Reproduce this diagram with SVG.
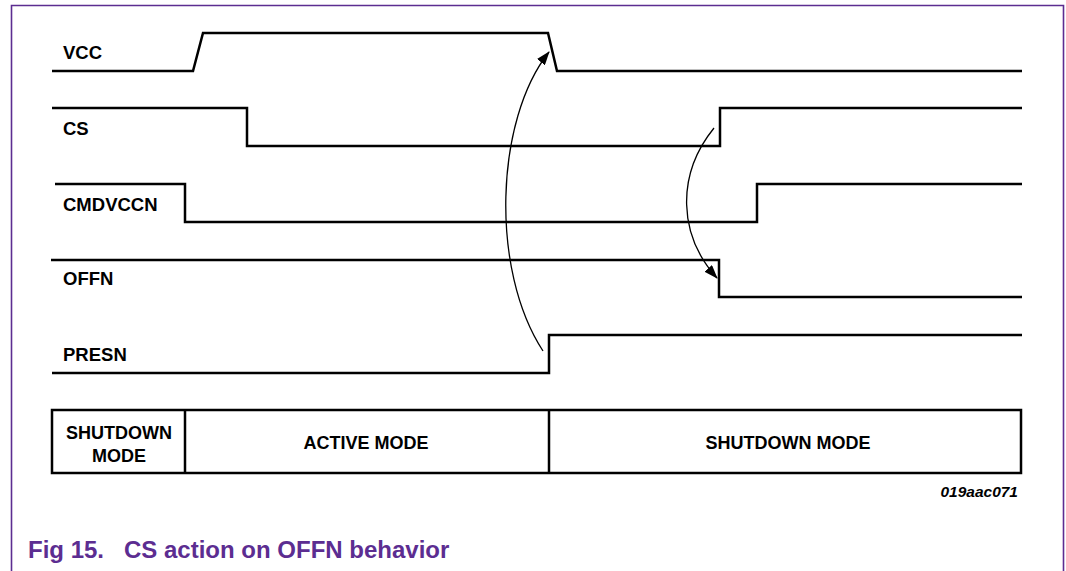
<svg xmlns="http://www.w3.org/2000/svg" width="1066" height="571" viewBox="0 0 1066 571">
<style>
.sig{fill:none;stroke:#000;stroke-width:2.5;stroke-linejoin:miter;stroke-linecap:butt}
.lbl{font-family:"Liberation Sans",Arial,sans-serif;font-size:18.5px;font-weight:bold;fill:#000}
.mode{font-family:"Liberation Sans",Arial,sans-serif;font-size:18px;font-weight:bold;fill:#000;text-anchor:middle}
.arc{fill:none;stroke:#000;stroke-width:1.3}
.frame{fill:none;stroke:#5C2D91;stroke-width:1.6}
.cap{font-family:"Liberation Sans",Arial,sans-serif;font-size:24px;font-weight:bold;fill:#5C2D91}
</style>
<defs>
<marker id="ah" markerUnits="userSpaceOnUse" markerWidth="14" markerHeight="10" refX="13" refY="5" orient="auto">
<path d="M0,0 L14,5 L0,10 Z" fill="#000"/>
</marker>
</defs>
<rect width="1066" height="571" fill="#fff"/>
<g id="frame">
<path class="frame" d="M11.5,571 V5.5 H1063.5 V571"/>
</g>
<g id="vcc">
<path class="sig" d="M52,71 H193 L203,33 H548 L557,71 H1022"/>
<text class="lbl" x="63" y="59">VCC</text>
</g>
<g id="cs">
<path class="sig" d="M52,108 H247 V146 H720 V108 H1022"/>
<text class="lbl" x="63" y="135">CS</text>
</g>
<g id="cmdvccn">
<path class="sig" d="M55,184 H185 V222 H757 V184 H1022"/>
<text class="lbl" x="63" y="211">CMDVCCN</text>
</g>
<g id="offn">
<path class="sig" d="M51,260 H719 V297 H1022"/>
<text class="lbl" x="63" y="285">OFFN</text>
</g>
<g id="presn">
<path class="sig" d="M52,373 H549 V335 H1022"/>
<text class="lbl" x="63" y="361">PRESN</text>
</g>
<g id="modes">
<rect class="sig" x="52" y="410" width="969" height="63"/>
<line class="sig" x1="185" y1="410" x2="185" y2="473"/>
<line class="sig" x1="549" y1="410" x2="549" y2="473"/>
<text class="mode" x="119" y="439">SHUTDOWN</text>
<text class="mode" x="119" y="462">MODE</text>
<text class="mode" x="366" y="449">ACTIVE MODE</text>
<text class="mode" x="788" y="449">SHUTDOWN MODE</text>
</g>
<g id="connectors">
<path class="arc" d="M543,351 C490,270 495,120 549,52" marker-end="url(#ah)"/>
<path class="arc" d="M714,128 C676,175 678,235 717,278" marker-end="url(#ah)"/>
</g>
<g id="labels">
<text x="1018" y="497" text-anchor="end" style="font-family:'Liberation Sans',Arial,sans-serif;font-size:15.5px;font-weight:bold;font-style:italic">019aac071</text>
<text class="cap" x="28" y="558">Fig 15.</text>
<text class="cap" x="124" y="558">CS action on OFFN behavior</text>
</g>
</svg>
